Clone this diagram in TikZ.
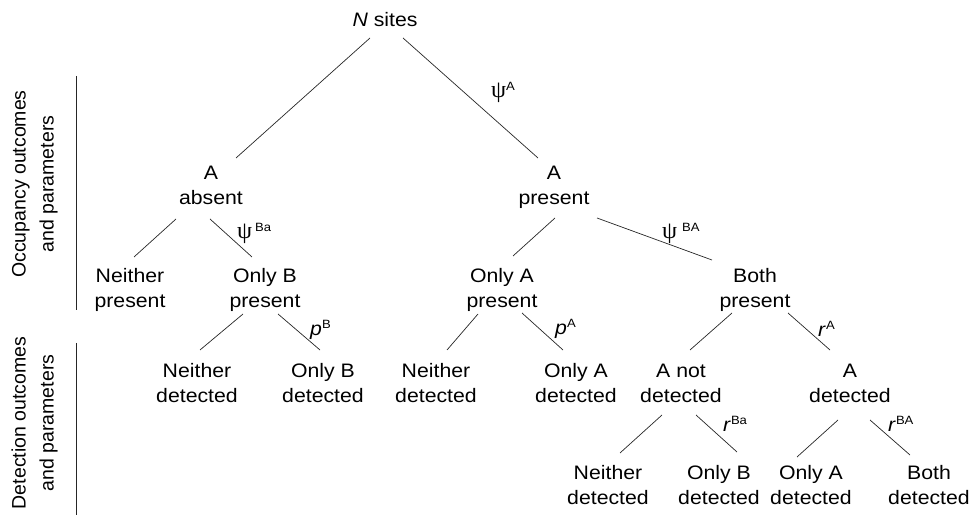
\documentclass[tikz,border=0pt]{standalone}
\usepackage{fontspec}
\setmainfont{Liberation Sans}[FakeStretch=1.09]
\newfontfamily\rotfont{Liberation Sans}
\newfontfamily\grkfont{Liberation Serif}[FakeStretch=1.0]
\newcommand\txtfont{\fontsize{19.5}{24.5}\selectfont}
\newcommand\rottxt{\rotfont\fontsize{19.5}{28}\selectfont}
\newcommand\twol[2]{\strut #1\\#2\strut}
\newcommand\psym{{\grkfont\fontsize{24}{24}\selectfont ψ}}
\newcommand\supr[1]{\raisebox{7pt}{\fontsize{12}{12}\selectfont #1}}
\tikzset{
  outcome/.style={align=center, inner sep=0pt, font=\txtfont},
  param/.style={inner sep=0pt, anchor=base west, font=\txtfont},
  branch/.style={line width=0.7pt, black!85},
  sidebar/.style={line width=0.7pt, black!85},
  sidelabel/.style={rotate=90, align=center, inner sep=0pt, font=\rottxt}
}
\begin{document}
\begin{tikzpicture}[x=1pt,y=-1pt]
\useasboundingbox (0,0) rectangle (970,518);
% outcome nodes
\node[outcome] (ns)    at (385,22)  {\strut\textit{N} sites};
\node[outcome] (aabs)  at (211,187) {\twol{A}{absent}};
\node[outcome] (apres) at (554,187) {\twol{A}{present}};
\node[outcome] (np)    at (130,290) {\twol{Neither}{present}};
\node[outcome] (obp)   at (265,290) {\twol{Only B}{present}};
\node[outcome] (oap)   at (502,290) {\twol{Only A}{present}};
\node[outcome] (bp)    at (755,290) {\twol{Both}{present}};
\node[outcome] (nda)   at (197,385) {\twol{Neither}{detected}};
\node[outcome] (obda)  at (323,385) {\twol{Only B}{detected}};
\node[outcome] (ndb)   at (436,385) {\twol{Neither}{detected}};
\node[outcome] (oada)  at (576,385) {\twol{Only A}{detected}};
\node[outcome] (andet) at (681,385) {\twol{A not}{detected}};
\node[outcome] (adet)  at (850,385) {\twol{A}{detected}};
\node[outcome] (ndc)   at (608,487) {\twol{Neither}{detected}};
\node[outcome] (obdb)  at (719,487) {\twol{Only B}{detected}};
\node[outcome] (oadb)  at (811,487) {\twol{Only A}{detected}};
\node[outcome] (bd)    at (929,487) {\twol{Both}{detected}};
% side labels
\node[sidelabel] (occ) at (34,184) {\strut Occupancy outcomes\\and parameters\strut};
\node[sidelabel] (det) at (34,423) {\strut Detection outcomes\\and parameters\strut};
\coordinate (occtop) at (76,76);
\coordinate (occbot) at (76,310);
\coordinate (dettop) at (76,343);
\coordinate (detbot) at (76,515);
\draw[sidebar] (occtop) -- (occbot);
\draw[sidebar] (dettop) -- (detbot);
% branches
\draw[branch] ([shift={(-15,16)}]ns.center) -- ([shift={(25,-29)}]aabs.center);
\draw[branch] ([shift={(18,16)}]ns.center) -- ([shift={(-16,-29)}]apres.center);
\draw[branch] ([shift={(-35,32)}]aabs.center) -- ([shift={(4,-33)}]np.center);
\draw[branch] ([shift={(-1,32)}]aabs.center) -- ([shift={(-13,-33)}]obp.center);
\draw[branch] ([shift={(1,31)}]apres.center) -- ([shift={(11,-34)}]oap.center);
\draw[branch] ([shift={(43,31)}]apres.center) -- ([shift={(-43,-30)}]bp.center);
\draw[branch] ([shift={(-22,24)}]obp.center) -- ([shift={(3,-35)}]nda.center);
\draw[branch] ([shift={(13,24)}]obp.center) -- ([shift={(-3,-35)}]obda.center);
\draw[branch] ([shift={(-24,24)}]oap.center) -- ([shift={(11,-35)}]ndb.center);
\draw[branch] ([shift={(20,23)}]oap.center) -- ([shift={(-13,-35)}]oada.center);
\draw[branch] ([shift={(-23,23)}]bp.center) -- ([shift={(9,-35)}]andet.center);
\draw[branch] ([shift={(33,23)}]bp.center) -- ([shift={(-20,-35)}]adet.center);
\draw[branch] ([shift={(-19,30)}]andet.center) -- ([shift={(12,-34)}]ndc.center);
\draw[branch] ([shift={(15,30)}]andet.center) -- ([shift={(18,-35)}]obdb.center);
\draw[branch] ([shift={(-12,35)}]adet.center) -- ([shift={(-14,-30)}]oadb.center);
\draw[branch] ([shift={(20,35)}]adet.center) -- ([shift={(-19,-32)}]bd.center);
% parameters
\node[param] (psiA)  at (491,98)  {\psym\supr{A}};
\node[param] (psiBa) at (237,239) {\psym\kern3pt\supr{Ba}};
\node[param] (psiBA) at (662,239) {\psym\kern5pt\supr{BA}};
\node[param] (pB)    at (310,336) {\textit{p}\supr{B}};
\node[param] (pA)    at (555,335) {\textit{p}\supr{A}};
\node[param] (rA)    at (818,337) {\textit{r}\supr{A}};
\node[param] (rBa)   at (723,432) {\textit{r}\supr{Ba}};
\node[param] (rBA)   at (888,432) {\textit{r}\supr{BA}};
\end{tikzpicture}
\end{document}
